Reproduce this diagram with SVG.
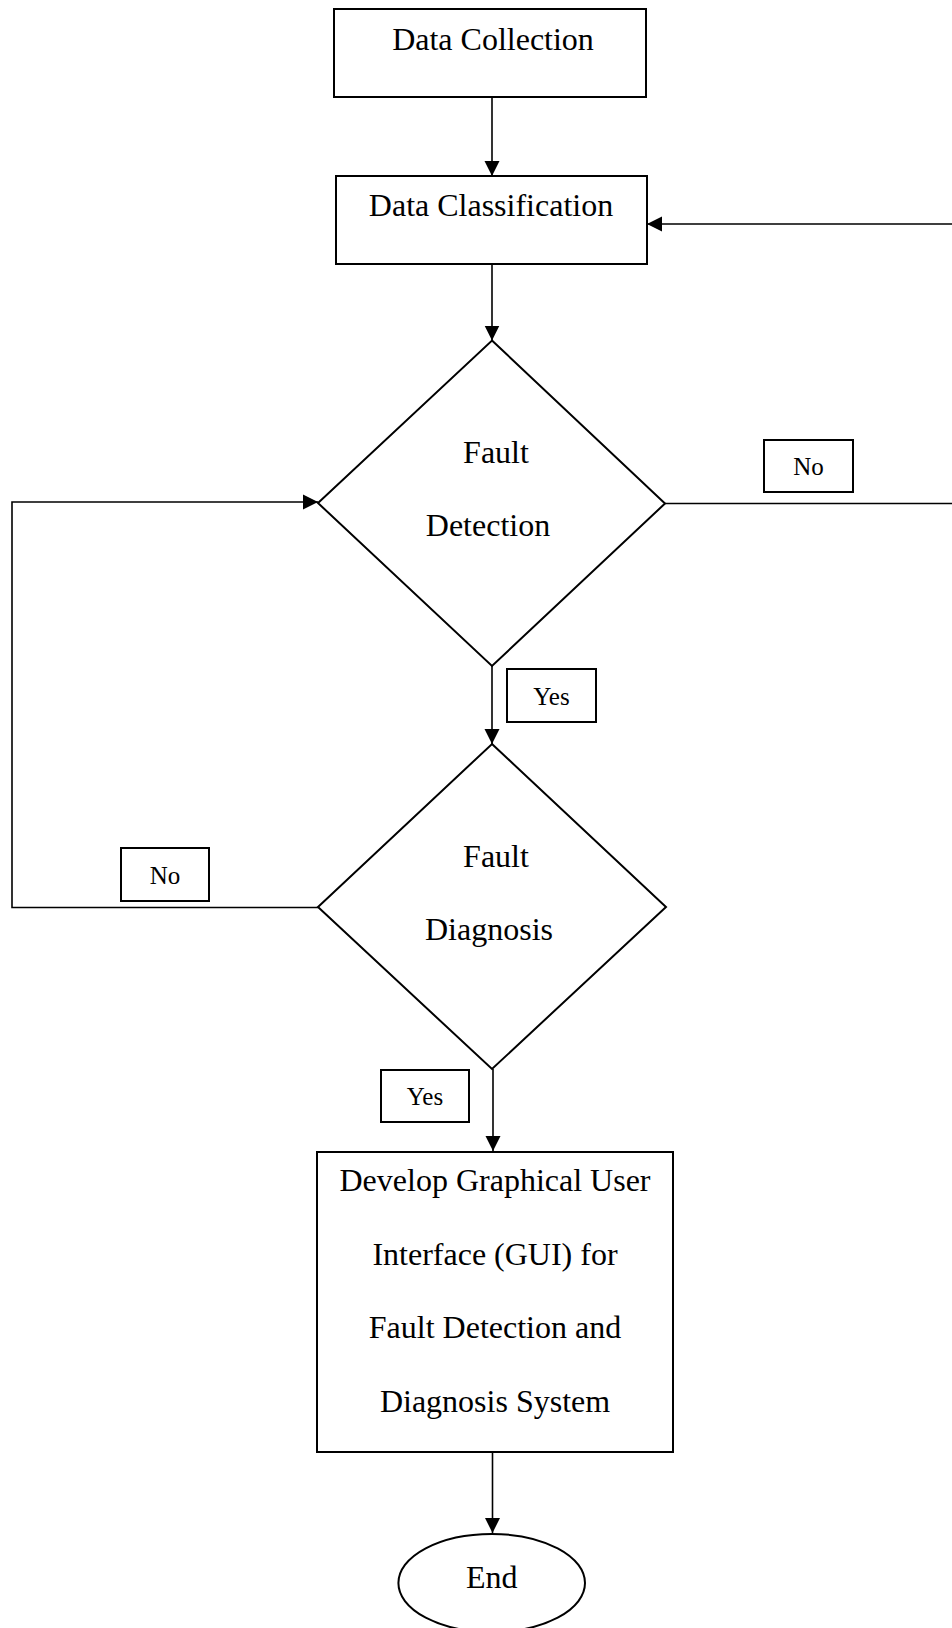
<svg xmlns="http://www.w3.org/2000/svg" width="952" height="1628" viewBox="0 0 952 1628">
<defs>
<style>
.box{fill:#fff;stroke:#000;stroke-width:2}
.lbl{fill:#fff;stroke:#000;stroke-width:2}
.ln{fill:none;stroke:#000;stroke-width:1.6}
.t{font-family:"Liberation Serif","Times New Roman",serif;font-size:32px;fill:#000;text-anchor:middle}
.s{font-family:"Liberation Serif","Times New Roman",serif;font-size:25px;fill:#000;text-anchor:middle}
</style>
<marker id="arr" markerUnits="userSpaceOnUse" markerWidth="16" markerHeight="16" viewBox="0 0 16 16" refX="15" refY="8" orient="auto">
<path d="M0,0.5 L15,8 L0,15.5 Z" fill="#000"/>
</marker>
</defs>
<rect width="952" height="1628" fill="#fff"/>
<g id="connectors">
<path class="ln" d="M492,97 L492,176" marker-end="url(#arr)"/>
<path class="ln" d="M492,264 L492,340.5" marker-end="url(#arr)"/>
<path class="ln" d="M492,666 L492,744" marker-end="url(#arr)"/>
<path class="ln" d="M493,1069 L493,1151" marker-end="url(#arr)"/>
<path class="ln" d="M492.5,1452 L492.5,1533" marker-end="url(#arr)"/>
<path class="ln" d="M665,503.5 L956,503.5 L956,224 L647,224" marker-end="url(#arr)"/>
<path class="ln" d="M318,907.5 L12,907.5 L12,502 L318,502" marker-end="url(#arr)"/>
</g>
<g id="data-collection">
<rect class="box" x="334" y="9" width="312" height="88"/>
<text class="t" x="493" y="50">Data Collection</text>
</g>
<g id="data-classification">
<rect class="box" x="336" y="176" width="311" height="88"/>
<text class="t" x="491" y="216">Data Classification</text>
</g>
<g id="fault-detection">
<polygon class="box" points="492,340.5 665,503.5 492,666 318,503"/>
<text class="t" x="496" y="463">Fault</text>
<text class="t" x="488" y="536">Detection</text>
</g>
<g id="fault-diagnosis">
<polygon class="box" points="492,744 666,907 492,1069 318,907"/>
<text class="t" x="496" y="867">Fault</text>
<text class="t" x="489" y="940">Diagnosis</text>
</g>
<g id="gui">
<rect class="box" x="317" y="1152" width="356" height="300"/>
<text class="t" x="495" y="1191">Develop Graphical User</text>
<text class="t" x="495" y="1265">Interface (GUI) for</text>
<text class="t" x="495" y="1338">Fault Detection and</text>
<text class="t" x="495" y="1412">Diagnosis System</text>
</g>
<g id="end">
<ellipse class="box" cx="491.7" cy="1583" rx="93.3" ry="49"/>
<text class="t" x="491.7" y="1588">End</text>
</g>
<g id="label-no-right">
<rect class="lbl" x="764" y="440" width="89" height="52"/>
<text class="s" x="808.5" y="475">No</text>
</g>
<g id="label-yes-1">
<rect class="lbl" x="507" y="669" width="89" height="53"/>
<text class="s" x="551.5" y="705">Yes</text>
</g>
<g id="label-no-left">
<rect class="lbl" x="121" y="848" width="88" height="53"/>
<text class="s" x="165" y="884">No</text>
</g>
<g id="label-yes-2">
<rect class="lbl" x="381" y="1070" width="88" height="52"/>
<text class="s" x="425" y="1105">Yes</text>
</g>
</svg>
